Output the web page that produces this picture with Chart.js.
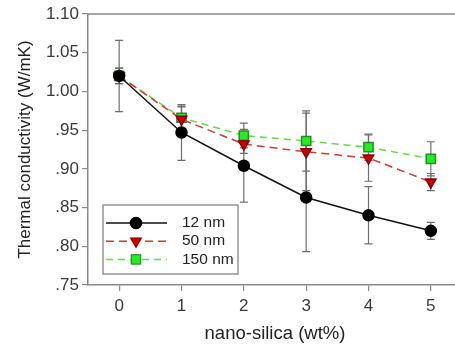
<!DOCTYPE html>
<html>
<head>
<meta charset="utf-8">
<script src="https://cdn.jsdelivr.net/npm/chart.js@4/dist/chart.umd.min.js"></script>
<style>
  html, body { margin: 0; padding: 0; background: #fff; overflow: hidden; }
  #wrap { width: 455px; height: 347px; overflow: hidden; }
</style>
</head>
<body>
<div id="wrap"><canvas id="chart" width="470" height="347"></canvas></div>
<script>
// nano-silica loading (wt%)
const loadings = [0, 1, 2, 3, 4, 5];
const yTicks = [0.75, 0.80, 0.85, 0.90, 0.95, 1.00, 1.05, 1.10];

const nm12 = [1.020, 0.947, 0.904, 0.863, 0.840, 0.820];
const nm12Err = [0.046, 0.036, 0.047, 0.070, 0.037, 0.011];
const nm50 = [1.020, 0.964, 0.932, 0.922, 0.914, 0.883];
const nm50Err = [0.010, 0.016, 0.012, 0.050, 0.030, 0.011];
const nm150 = [1.020, 0.966, 0.943, 0.936, 0.928, 0.913];
const nm150Err = [0.010, 0.015, 0.016, 0.039, 0.017, 0.022];

const seriesLabels = ["12 nm", "50 nm", "150 nm"];

const axisGray = "#8a8a8a";
const fontFamily = "'Liberation Sans', Arial, sans-serif";

function toPoints(values) {
  return loadings.map((x, i) => ({ x: x, y: values[i] }));
}

// error bars are drawn under the lines and markers
const errorBars = {
  id: "errorBars",
  beforeDatasetsDraw(chart) {
    const ctx = chart.ctx;
    const xs = chart.scales.x;
    const ys = chart.scales.y;
    ctx.save();
    ctx.strokeStyle = "#6e6e6e";
    ctx.lineWidth = 1.2;
    chart.data.datasets.forEach((ds) => {
      ds.data.forEach((p, i) => {
        const e = ds.errors[i];
        const px = xs.getPixelForValue(p.x);
        const top = ys.getPixelForValue(p.y + e);
        const bot = ys.getPixelForValue(p.y - e);
        ctx.beginPath();
        ctx.moveTo(px, top);
        ctx.lineTo(px, bot);
        ctx.moveTo(px - 4, top);
        ctx.lineTo(px + 4, top);
        ctx.moveTo(px - 4, bot);
        ctx.lineTo(px + 4, bot);
        ctx.stroke();
      });
    });
    ctx.restore();
  },
};

// top frame line + boxed legend in the lower left corner
const frameAndLegend = {
  id: "frameAndLegend",
  afterDraw(chart) {
    const ctx = chart.ctx;
    const area = chart.chartArea;
    ctx.save();
    ctx.strokeStyle = axisGray;
    ctx.lineWidth = 1.5;
    ctx.beginPath();
    ctx.moveTo(area.left, area.top);
    ctx.lineTo(area.right, area.top);
    ctx.stroke();

    const boxX = area.left + 15;
    const boxW = 135;
    const boxH = 69;
    const boxY = area.bottom - 11 - boxH;
    ctx.fillStyle = "#fff";
    ctx.fillRect(boxX, boxY, boxW, boxH);
    ctx.strokeStyle = "#7a7a7a";
    ctx.lineWidth = 1.2;
    ctx.strokeRect(boxX, boxY, boxW, boxH);

    ctx.font = "15.5px " + fontFamily;
    ctx.textBaseline = "middle";
    chart.data.datasets.forEach((ds, i) => {
      const rowY = boxY + 18 + i * 18.2;
      ctx.strokeStyle = ds.borderColor;
      ctx.lineWidth = ds.borderWidth;
      ctx.setLineDash(ds.borderDash || []);
      ctx.beginPath();
      ctx.moveTo(boxX + 3, rowY);
      ctx.lineTo(boxX + 64, rowY);
      ctx.stroke();
      ctx.setLineDash([]);
      Chart.helpers.drawPoint(ctx, {
        pointStyle: ds.pointStyle,
        radius: ds.pointRadius,
        rotation: ds.pointRotation || 0,
        borderWidth: 1,
      }, boxX + 33, rowY);
      ctx.fillStyle = ds.pointBackgroundColor;
      ctx.strokeStyle = ds.pointBorderColor;
      ctx.lineWidth = 1;
      ctx.fill();
      ctx.stroke();
      ctx.fillStyle = "#222";
      ctx.fillText(seriesLabels[i], boxX + 79, rowY);
    });
    ctx.restore();
  },
};

new Chart(document.getElementById("chart"), {
  type: "line",
  data: {
    datasets: [
      {
        label: seriesLabels[0],
        data: toPoints(nm12),
        errors: nm12Err,
        borderColor: "#111",
        borderWidth: 1.5,
        pointStyle: "circle",
        pointRadius: 5.5,
        pointBackgroundColor: "#000",
        pointBorderColor: "#000",
      },
      {
        label: seriesLabels[1],
        data: toPoints(nm50),
        errors: nm50Err,
        borderColor: "#cc3a3a",
        borderWidth: 1.5,
        borderDash: [8, 5],
        pointStyle: "triangle",
        pointRotation: 180,
        pointRadius: 6,
        pointBackgroundColor: "#cc0000",
        pointBorderColor: "#8a0000",
      },
      {
        label: seriesLabels[2],
        data: toPoints(nm150),
        errors: nm150Err,
        borderColor: "#66d84a",
        borderWidth: 1.5,
        borderDash: [7, 5],
        pointStyle: "rect",
        pointRadius: 6.5,
        pointBackgroundColor: "#22ee22",
        pointBorderColor: "#2a8a2a",
      },
    ],
  },
  options: {
    responsive: false,
    animation: false,
    layout: { padding: { top: 14, right: 6 } },
    plugins: {
      legend: { display: false },
      tooltip: { enabled: false },
    },
    scales: {
      x: {
        type: "linear",
        min: -0.5,
        max: 5.5,
        afterBuildTicks: (scale) => {
          scale.ticks = loadings.map((v) => ({ value: v }));
        },
        afterFit: (scale) => { scale.height = 62; },
        border: { display: true, color: axisGray, width: 1.5 },
        grid: { drawOnChartArea: false, color: axisGray, tickLength: 6, lineWidth: 1.2 },
        ticks: {
          color: "#3a3a3a",
          padding: 5,
          font: { family: fontFamily, size: 17 },
        },
        title: {
          display: true,
          text: "nano-silica (wt%)",
          color: "#222",
          padding: { top: 6, bottom: 2 },
          font: { family: fontFamily, size: 18.5 },
        },
      },
      y: {
        min: 0.75,
        max: 1.10,
        afterBuildTicks: (scale) => {
          scale.ticks = yTicks.map((v) => ({ value: v }));
        },
        afterFit: (scale) => { scale.width = 88; },
        border: { display: true, color: axisGray, width: 1.5 },
        grid: { drawOnChartArea: false, color: axisGray, tickLength: 6, lineWidth: 1.2 },
        ticks: {
          color: "#3a3a3a",
          padding: 3,
          font: { family: fontFamily, size: 17 },
          callback: (v) => {
            const s = Number(v).toFixed(2);
            return s.startsWith("0") ? s.slice(1) : s;
          },
        },
        title: {
          display: true,
          text: "Thermal conductivity (W/mK)",
          color: "#222",
          padding: { top: 15, bottom: 0 },
          font: { family: fontFamily, size: 17 },
        },
      },
    },
  },
  plugins: [errorBars, frameAndLegend],
});
</script>
</body>
</html>
